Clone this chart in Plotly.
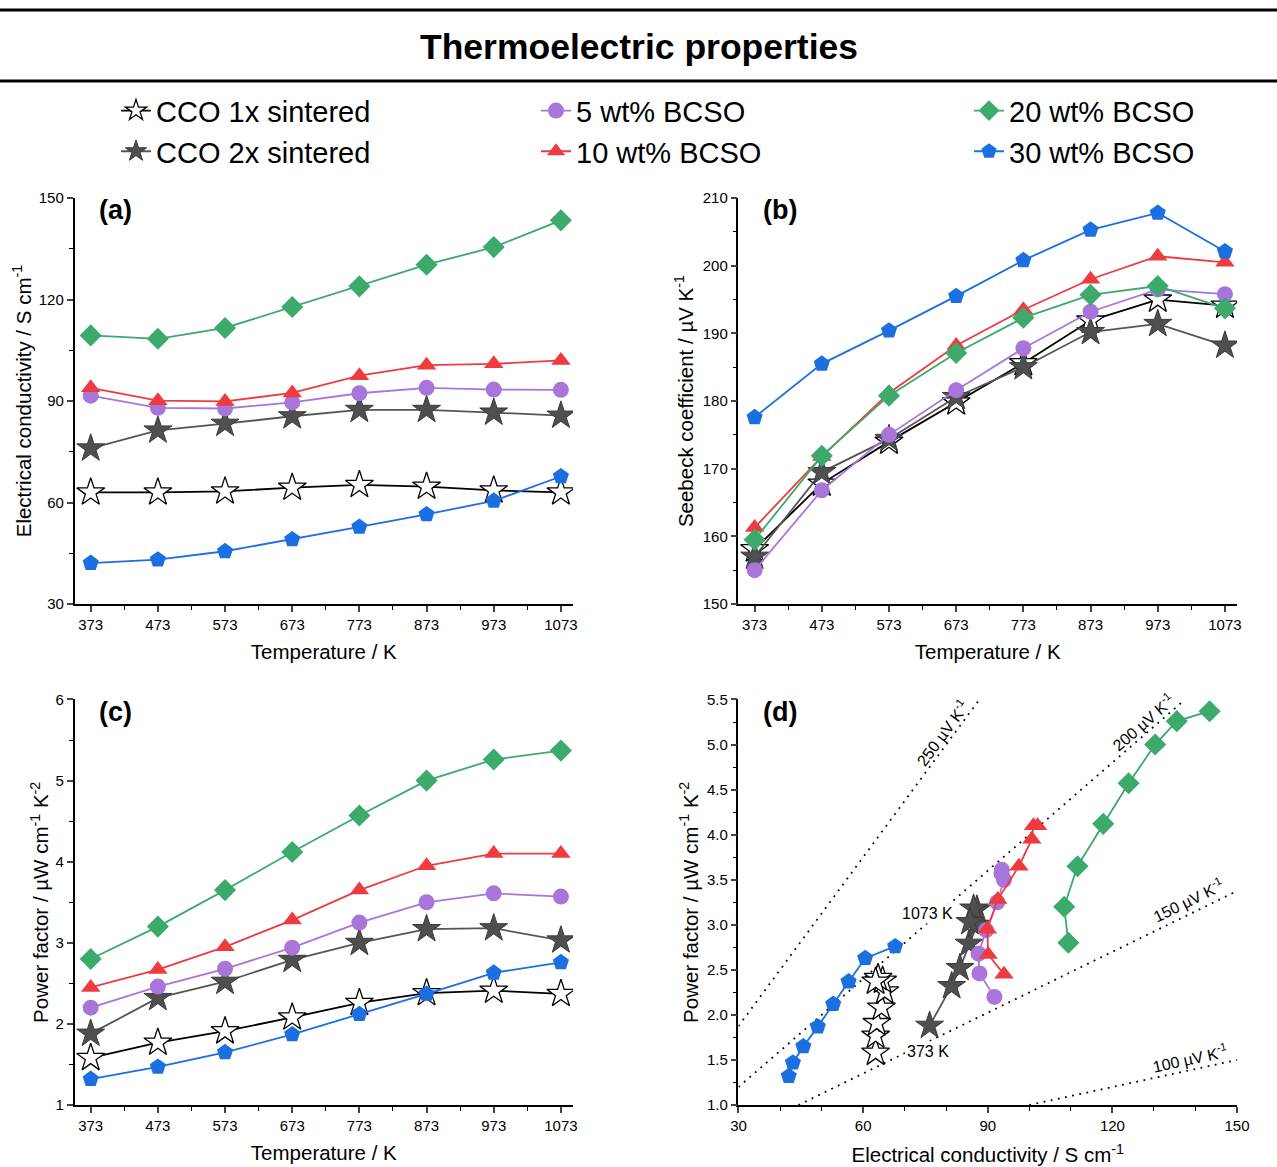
import math
import numpy as np
import plotly.graph_objects as go

# ---------------- data ----------------
T = [373, 473, 573, 673, 773, 873, 973, 1073]
T_ticks = [373, 473, 573, 673, 773, 873, 973, 1073]

names = ["CCO 1x sintered", "CCO 2x sintered", "5 wt% BCSO",
         "10 wt% BCSO", "20 wt% BCSO", "30 wt% BCSO"]

sigma_cco1 = [63.0, 63.0, 63.3, 64.4, 65.2, 64.7, 63.6, 63.0]
sigma_cco2 = [76.0, 81.3, 83.3, 85.5, 87.4, 87.4, 86.6, 85.7]
sigma_5 = [91.6, 88.0, 87.8, 89.6, 92.3, 93.9, 93.4, 93.3]
sigma_10 = [93.9, 90.1, 89.9, 92.4, 97.5, 100.6, 101.0, 102.0]
sigma_20 = [109.4, 108.4, 111.6, 117.8, 123.9, 130.3, 135.5, 143.4]
sigma_30 = [42.1, 43.1, 45.6, 49.1, 52.8, 56.5, 60.5, 67.7]

S_cco1 = [158.1, 167.8, 174.0, 179.8, 185.6, 191.9, 195.0, 194.1]
S_cco2 = [157.0, 169.5, 174.4, 180.6, 185.0, 190.2, 191.4, 188.2]
S_5 = [155.0, 166.8, 175.0, 181.6, 187.8, 193.2, 196.5, 195.8]
S_10 = [161.3, 171.8, 181.2, 188.2, 193.5, 198.0, 201.4, 200.5]
S_20 = [159.5, 171.9, 180.8, 187.1, 192.3, 195.7, 197.0, 193.7]
S_30 = [177.6, 185.5, 190.4, 195.5, 200.8, 205.3, 207.8, 202.1]

PF_cco1 = [1.58, 1.77, 1.91, 2.08, 2.26, 2.38, 2.41, 2.37]
PF_cco2 = [1.88, 2.32, 2.52, 2.79, 3.00, 3.17, 3.18, 3.03]
PF_5 = [2.20, 2.46, 2.68, 2.94, 3.25, 3.50, 3.61, 3.57]
PF_10 = [2.45, 2.67, 2.95, 3.28, 3.65, 3.95, 4.10, 4.10]
PF_20 = [2.80, 3.20, 3.65, 4.12, 4.57, 5.00, 5.26, 5.37]
PF_30 = [1.32, 1.47, 1.65, 1.87, 2.12, 2.37, 2.63, 2.76]

iso_S = [250, 200, 150, 100]                       # µV/K iso-Seebeck lines
iso_labels = ["250 µV K<sup>-1</sup>", "200 µV K<sup>-1</sup>",
              "150 µV K<sup>-1</sup>", "100 µV K<sup>-1</sup>"]
iso_label_sigma = [79.0, 127.4, 138.2, 138.7]
iso_label_pf = [5.13, 5.25, 3.28, 1.52]

temp_labels = ["1073 K", "373 K"]
temp_label_sigma = [75.5, 75.7]
temp_label_pf = [3.12, 1.59]

sigmas = [sigma_cco1, sigma_cco2, sigma_5, sigma_10, sigma_20, sigma_30]
seebecks = [S_cco1, S_cco2, S_5, S_10, S_20, S_30]
pfs = [PF_cco1, PF_cco2, PF_5, PF_10, PF_20, PF_30]

# ---------------- styles ----------------
line_colors = ["#000000", "#555555", "#A875DB", "#EE3B3F", "#3BAA6A", "#1B6FE0"]
fill_colors = ["#FFFFFF", "#4F4F4F", "#A875DB", "#EE3B3F", "#3BAA6A", "#1B6FE0"]
edge_colors = ["#000000", "#3A3A3A", "#A875DB", "#EE3B3F", "#3BAA6A", "#1B6FE0"]
edge_widths = [1.3, 1, 0, 0, 0, 0]
symbols = ["star", "star", "circle", "triangle-up", "diamond", "pentagon"]
sizes = [21, 21, 16, 17, 17, 17]
legend_ids = ["legend", "legend", "legend2", "legend2", "legend3", "legend3"]

FONT = "Liberation Sans, Arial, sans-serif"
TICKFONT = dict(family="Liberation Sans Narrow, Arial Narrow, Liberation Sans, Arial", size=15, color="black")
TITLEFONT = dict(family=FONT, size=20.5, color="black")
W, H = 1277, 1167

dom_x_left = [0.0584, 0.4487]
dom_x_right = [0.5783, 0.9687]
dom_y_top = [0.4824, 0.8303]
dom_y_bot = [0.0531, 0.4006]

T_range = [349, 1091]
d_xrange = [30, 150]
d_yrange = [1.0, 5.5]

fig = go.Figure()

# iso-Seebeck dotted lines in panel (d)
for S in iso_S:
    k = S ** 2 * 1e-6
    s0 = max(d_xrange[0], d_yrange[0] / k)
    s1 = min(d_xrange[1], d_yrange[1] / k)
    xs = np.linspace(s0, s1, 50)
    fig.add_trace(go.Scatter(x=xs, y=k * xs, mode="lines",
                             line=dict(color="black", width=1.8, dash="1.8px,5.5px"),
                             xaxis="x4", yaxis="y4", showlegend=False, hoverinfo="skip"))

panels = [("x", "y"), ("x2", "y2"), ("x3", "y3"), ("x4", "y4")]
for i in range(6):
    mk = dict(symbol=symbols[i], size=sizes[i], color=fill_colors[i],
              line=dict(color=edge_colors[i], width=edge_widths[i]))
    ln = dict(color=line_colors[i], width=1.8)
    data = [(T, sigmas[i]), (T, seebecks[i]), (T, pfs[i]), (sigmas[i], pfs[i])]
    for p, ((xa, ya), (xv, yv)) in enumerate(zip(panels, data)):
        fig.add_trace(go.Scatter(
            x=xv, y=yv, mode="lines+markers", name=names[i],
            marker=mk, line=ln, xaxis=xa, yaxis=ya,
            showlegend=(p == 0), legend=legend_ids[i]))

def xaxis_T(domain, anchor):
    return dict(domain=domain, anchor=anchor, range=T_range, tickvals=T_ticks,
                ticks="outside", ticklen=6, tickwidth=1.5, showline=True,
                linecolor="black", linewidth=1.5, showgrid=False, zeroline=False,
                tickfont=TICKFONT, automargin=False,
                minor=dict(ticks="outside", ticklen=4, tickwidth=1.2, tick0=373, dtick=50,
                           tickcolor="black"),
                title=dict(text="Temperature / K", font=TITLEFONT, standoff=13))

def yaxis_std(domain, anchor, rng, dtick, mdtick, title, fmt=None, standoff=6):
    d = dict(domain=domain, anchor=anchor, range=rng, dtick=dtick, tick0=rng[0],
             ticks="outside", ticklen=6, tickwidth=1.5, showline=True,
             linecolor="black", linewidth=1.5, showgrid=False, zeroline=False,
             tickfont=TICKFONT, automargin=False,
             minor=dict(ticks="outside", ticklen=4, tickwidth=1.2, tick0=rng[0], dtick=mdtick,
                        tickcolor="black"),
             title=dict(text=title, font=TITLEFONT, standoff=standoff))
    if fmt:
        d["tickformat"] = fmt
    return d

layout = dict(
    width=W, height=H, margin=dict(l=0, r=0, t=0, b=0, autoexpand=False),
    paper_bgcolor="white", plot_bgcolor="white",
    font=dict(family=FONT, color="black"),
    xaxis=xaxis_T(dom_x_left, "y"),
    yaxis=yaxis_std(dom_y_top, "x", [30, 150], 30, 15, "Electrical conductivity / S cm<sup>-1</sup>",
                    standoff=2),
    xaxis2=xaxis_T(dom_x_right, "y2"),
    yaxis2=yaxis_std(dom_y_top, "x2", [150, 210], 10, 5, "Seebeck coefficient / µV K<sup>-1</sup>",
                     standoff=4),
    xaxis3=xaxis_T(dom_x_left, "y3"),
    yaxis3=yaxis_std(dom_y_bot, "x3", [1, 6], 1, 0.5, "Power factor / µW cm<sup>-1</sup> K<sup>-2</sup>",
                     standoff=1),
    xaxis4=dict(domain=dom_x_right, anchor="y4", range=d_xrange, dtick=30, tick0=30,
                ticks="outside", ticklen=6, tickwidth=1.5, showline=True,
                linecolor="black", linewidth=1.5, showgrid=False, zeroline=False,
                tickfont=TICKFONT, automargin=False,
                minor=dict(ticks="outside", ticklen=4, tickwidth=1.2, tick0=30, dtick=10,
                           tickcolor="black"),
                title=dict(text="Electrical conductivity / S cm<sup>-1</sup>",
                           font=TITLEFONT, standoff=15)),
    yaxis4=yaxis_std(dom_y_bot, "x4", list(d_yrange), 0.5, 0.25,
                     "Power factor / µW cm<sup>-1</sup> K<sup>-2</sup>", fmt=".1f", standoff=3),
)

leg_common = dict(orientation="v", yanchor="top", y=0.927, xanchor="left",
                  font=dict(family=FONT, size=29, color="black"),
                  bgcolor="rgba(0,0,0,0)", tracegroupgap=0, itemsizing="trace")
layout["legend"] = dict(leg_common, x=116 / W)
layout["legend2"] = dict(leg_common, x=536 / W)
layout["legend3"] = dict(leg_common, x=969 / W)

fig.update_layout(**layout)

# header
fig.add_shape(type="line", xref="paper", yref="paper", x0=0, x1=1, y0=1 - 10 / H, y1=1 - 10 / H,
              line=dict(color="black", width=3))
fig.add_shape(type="line", xref="paper", yref="paper", x0=0, x1=1, y0=1 - 81 / H, y1=1 - 81 / H,
              line=dict(color="black", width=3))
fig.add_annotation(text="<b>Thermoelectric properties</b>", xref="paper", yref="paper",
                   x=639 / W, y=1 - 47 / H, showarrow=False, xanchor="center", yanchor="middle",
                   font=dict(family=FONT, size=35.5, color="black"))

# panel labels
for lab, xa, ya in [("(a)", "x domain", "y domain"), ("(b)", "x2 domain", "y2 domain"),
                    ("(c)", "x3 domain", "y3 domain"), ("(d)", "x4 domain", "y4 domain")]:
    fig.add_annotation(text="<b>%s</b>" % lab, xref=xa, yref=ya, x=0.045, y=0.97,
                       xanchor="left", yanchor="middle", showarrow=False,
                       font=dict(family=FONT, size=27, color="black"))

# iso-line labels in (d)
px_per_sigma = (dom_x_right[1] - dom_x_right[0]) * W / (d_xrange[1] - d_xrange[0])
px_per_pf = (dom_y_bot[1] - dom_y_bot[0]) * H / (d_yrange[1] - d_yrange[0])
for S, lab, sx, sy in zip(iso_S, iso_labels, iso_label_sigma, iso_label_pf):
    k = S ** 2 * 1e-6
    ang = math.degrees(math.atan(k * px_per_pf / px_per_sigma))
    fig.add_annotation(text=lab, x=sx, y=sy, xref="x4", yref="y4", showarrow=False,
                       textangle=-ang, font=dict(family=TICKFONT["family"], size=16, color="black"))

for lab, sx, sy in zip(temp_labels, temp_label_sigma, temp_label_pf):
    fig.add_annotation(text=lab, x=sx, y=sy, xref="x4", yref="y4", showarrow=False,
                       bgcolor="white", font=dict(family=TICKFONT["family"], size=16, color="black"))

fig.write_html("out.html", config={"displayModeBar": False},
               post_script="document.body.style.margin='0';document.body.style.padding='0';")
